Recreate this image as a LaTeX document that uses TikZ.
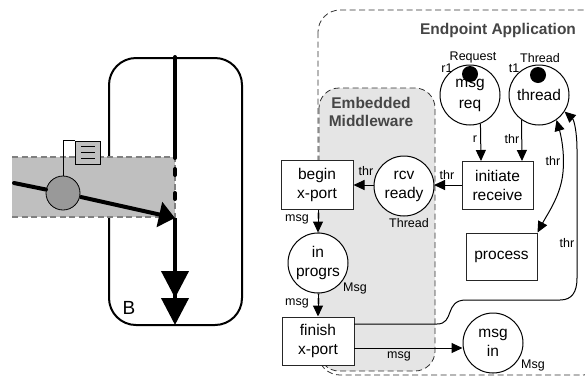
\documentclass[tikz,border=0pt]{standalone}
\usepackage{fontspec}
\setmainfont{Liberation Sans}
\usetikzlibrary{arrows.meta}
\definecolor{bandgray}{gray}{0.75}
\definecolor{dashgray}{gray}{0.5}
\definecolor{mwgray}{gray}{0.9}
\definecolor{headgray}{gray}{0.27}
\tikzset{
  place/.style={draw=black,circle,line width=1pt,minimum size=60pt,inner sep=0pt,align=center,font=\fontsize{15.5}{19}\selectfont},
  trans/.style={draw=black!85,line width=1pt,inner sep=0pt,align=center,font=\fontsize{15.5}{19}\selectfont},
  token/.style={fill=black,circle,minimum size=16pt,inner sep=0pt},
  lab/.style={inner sep=0pt,font=\fontsize{12.5}{15}\selectfont},
  conn/.style={line width=1pt,-{Triangle[length=11pt,width=10pt]}},
  head/.style={inner sep=0pt,align=center,font=\fontsize{15.5}{18}\selectfont\bfseries,text=headgray},
  thick line/.style={line width=4pt,line cap=round},
  bigtip/.style={-{Triangle[length=27pt,width=27pt,sep=0pt]Triangle[length=27pt,width=27pt]}},
  dashline/.style={line width=0.8pt,dash pattern=on 6pt off 3.5pt,draw=black!80}
}
\begin{document}
\begin{tikzpicture}[x=1pt,y=-1pt]
\useasboundingbox (0,0) rectangle (585,376);
% left part
\draw[line width=2pt,rounded corners=27pt] (109,58) rectangle (242,325);
\fill[bandgray] (12,157) rectangle (175,217);
\draw[dashgray,line width=1.6pt,dash pattern=on 6pt off 3.5pt] (12,157) -- (175,157) -- (175,217) -- (12,217);
\coordinate (top) at (175,57);
\coordinate (j1) at (175,158);
\coordinate (d1a) at (175,169);
\coordinate (d1b) at (175,175);
\coordinate (d2a) at (175,193);
\coordinate (d2b) at (175,199);
\coordinate (j2) at (175,218);
\coordinate (base) at (175,325);
\coordinate (src) at (14,183);
\draw[thick line] (top) -- (j1);
\draw[thick line] (d1a) -- (d1b);
\draw[thick line] (d2a) -- (d2b);
\draw[line width=4pt,bigtip] (j2) -- (base);
\node[draw=black,line width=0.8pt,fill=gray!80!white,circle,minimum size=34pt,inner sep=0pt] (comp) at (63,193) {};
\draw[line width=4pt,line cap=round] (src) -- (comp);
\draw[line width=4pt,-{Triangle[length=16pt,width=25pt]}] (comp) -- (j2);
\node[draw=black,line width=0.8pt,fill=bandgray,minimum width=25pt,minimum height=23pt,inner sep=0pt] (queue) at (87.5,152.5) {};
\draw[line width=0.8pt] (comp.north) |- (queue.north west);
\draw[line width=0.8pt] (81,146) -- (95,146) (81,152) -- (95,152) (81,158) -- (95,158);
\node[inner sep=0pt,font=\fontsize{19}{19}\selectfont] (blabel) at (129,308) {B};
% right part
\begin{scope}
\clip (0,0) rectangle (585,376);
\draw[dashline,rounded corners=22pt] (318,10) rectangle (605,375);
\end{scope}
\draw[dashline,fill=mwgray,rounded corners=20pt] (319,88) rectangle (435,371);
\node[head] (epa) at (498,30) {Endpoint Application};
\node[head] (emb) at (371,112) {Embedded\\Middleware};
\node[place] (req) at (470,95) {};
\node[token] (tk1) at (470,74) {};
\node[inner sep=0pt,align=center,font=\fontsize{15.5}{21}\selectfont] (reqt) at (470,95.5) {msg\\req};
\node[place] (thread) at (539,95) {thread};
\node[token] (tk2) at (538,75) {};
\node[trans,minimum width=71pt,minimum height=48pt] (init) at (497.5,185) {initiate\\receive};
\node[place,fill=white] (rcv) at (404,186) {rcv\\ready};
\node[trans,fill=white,minimum width=72pt,minimum height=49pt] (begin) at (317,184.5) {begin\\x-port};
\node[place,fill=white] (prog) at (318,263) {in\\progrs};
\node[trans,fill=white,minimum width=72pt,minimum height=48pt] (finish) at (318,341) {finish\\x-port};
\node[place] (min) at (493,343) {msg\\in};
\node[trans,minimum width=71pt,minimum height=47pt] (proc) at (501.5,256.5) {process};
% connectors
\coordinate (a1) at (481,161);
\coordinate (a2) at (522,161);
\draw[conn] (req.-70) -- (a1);
\draw[conn] (thread.-125) -- (a2);
\coordinate (ie) at (462,185);
\draw[conn] (ie) -- (434,185);
\draw[conn] (rcv.west |- 0,185) -- (begin.east |- 0,185);
\draw[conn] (begin.south -| prog.north) -- (prog.north);
\draw[conn] (prog.south) -- (finish.north);
\coordinate (f2) at (354,348);
\draw[conn] (f2) -- (min.west |- f2);
\coordinate (f1) at (354,324);
\draw[conn] (f1) -- (437,324) .. controls (455,324) and (444,300) .. (466,300) -- (560,300) .. controls (572,300) and (577,292) .. (577,278) -- (577,150) .. controls (577,132) and (574,120) .. (thread.-33);
\draw[line width=1pt,{Triangle[length=11pt,width=10pt]}-{Triangle[length=11pt,width=10pt]}] (thread.-55) .. controls (560,132) and (565,150) .. (563,172) .. controls (561,195) and (548,213) .. (proc.north east);
% labels
\node[lab] (l1) at (475,139) {r};
\node[lab] (l2) at (512,139) {thr};
\node[lab] (l3) at (553,161) {thr};
\node[lab] (l4) at (366,171) {thr};
\node[lab] (l5) at (447,175) {thr};
\node[lab] (l6) at (297,219) {msg};
\node[lab] (l7) at (297,303) {msg};
\node[lab] (l8) at (355,288) {Msg};
\node[lab] (l9) at (409,223) {Thread};
\node[lab] (l10) at (399,356) {msg};
\node[lab] (l11) at (533,365) {Msg};
\node[lab] (l12) at (567,243) {thr};
\node[lab] (l13) at (473,57) {Request};
\node[lab] (l14) at (447,68) {r1};
\node[lab] (l15) at (540,58) {Thread};
\node[lab] (l16) at (514,68) {t1};
\end{tikzpicture}
\end{document}
